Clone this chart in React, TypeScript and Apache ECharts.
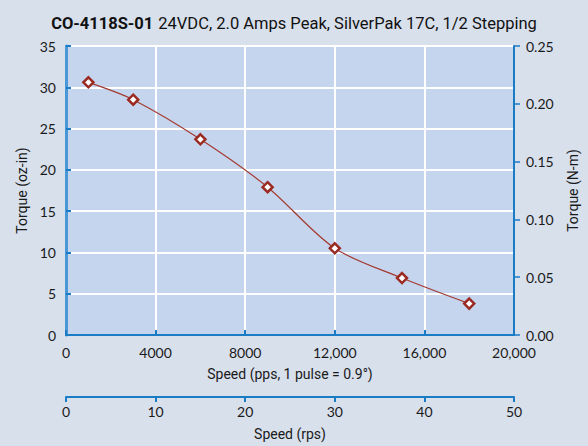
import React, { useEffect, useRef } from "react";
import * as echarts from "echarts";

const speedPps = [1000, 3000, 6000, 9000, 12000, 15000, 18000];
const torqueOzIn = [30.6, 28.5, 23.7, 17.9, 10.5, 6.9, 3.8];
const ppsTicks = { min: 0, max: 20000, interval: 4000 };
const rpsTicks = { min: 0, max: 50, interval: 10 };
const ozTicks = { min: 0, max: 35, interval: 5 };
const nmTicks = { min: 0, max: 0.25, interval: 0.05 };

const titleBold = "CO-4118S-01";
const titleRest = "24VDC, 2.0 Amps Peak, SilverPak 17C, 1/2 Stepping";

const AXIS_BLUE = "#1b7cc6";
const LABEL_FONT = "Lato";
const NAME_FONT = "Roboto";

export default function App() {
  const ref = useRef<HTMLDivElement>(null);
  useEffect(() => {
    if (!ref.current) return;
    const chart = echarts.init(ref.current, undefined, { renderer: "svg" });
    const labelStyle = { color: "#1a1a1a", fontSize: 14, fontFamily: LABEL_FONT };
    const nameStyle = { color: "#1a1a1a", fontSize: 14, fontFamily: NAME_FONT };
    chart.setOption({
      animation: false,
      backgroundColor: "#d8e0ec",
      title: {
        text: `{b|${titleBold}} {n|${titleRest}}`,
        left: "center",
        top: 9,
        textStyle: {
          fontWeight: "normal",
          rich: {
            b: { fontFamily: NAME_FONT, fontSize: 16.5, fontWeight: "bold", color: "#111" },
            n: { fontFamily: NAME_FONT, fontSize: 16.5, fontWeight: "normal", color: "#111" },
          },
        },
      },
      grid: {
        left: 66,
        right: 66,
        top: 46,
        bottom: 108,
        show: true,
        backgroundColor: "#c6d5ee",
        borderColor: AXIS_BLUE,
        borderWidth: 1.5,
      },
      xAxis: [
        {
          type: "value",
          position: "bottom",
          ...ppsTicks,
          axisLine: { show: true, onZero: false, lineStyle: { color: AXIS_BLUE, width: 2 } },
          axisTick: { show: true, inside: true, length: 5, lineStyle: { color: AXIS_BLUE, width: 2 } },
          splitLine: { show: true, lineStyle: { color: "#ffffff", width: 2 } },
          axisLabel: {
            ...labelStyle,
            margin: 10,
            formatter: (v: number) => (v >= 10000 ? v.toLocaleString("en-US") : String(v)),
          },
          name: "Speed (pps, 1 pulse = 0.9°)",
          nameLocation: "middle",
          nameGap: 32,
          nameTextStyle: nameStyle,
        },
        {
          type: "value",
          position: "bottom",
          offset: 62,
          ...rpsTicks,
          axisLine: { show: true, onZero: false, lineStyle: { color: AXIS_BLUE, width: 2 } },
          axisTick: { show: true, inside: false, length: 5, lineStyle: { color: AXIS_BLUE, width: 2 } },
          splitLine: { show: false },
          axisLabel: { ...labelStyle, margin: 7 },
          name: "Speed (rps)",
          nameLocation: "middle",
          nameGap: 30,
          nameTextStyle: nameStyle,
        },
      ],
      yAxis: [
        {
          type: "value",
          position: "left",
          ...ozTicks,
          axisLine: { show: true, onZero: false, lineStyle: { color: "#4a97d6", width: 3 } },
          axisTick: { show: true, inside: true, length: 5, lineStyle: { color: AXIS_BLUE, width: 2 } },
          splitLine: { show: true, lineStyle: { color: "#ffffff", width: 2 } },
          axisLabel: { ...labelStyle, margin: 10 },
          name: "Torque (oz-in)",
          nameLocation: "middle",
          nameGap: 31,
          nameTextStyle: nameStyle,
        },
        {
          type: "value",
          position: "right",
          ...nmTicks,
          axisLine: { show: true, onZero: false, lineStyle: { color: AXIS_BLUE, width: 2 } },
          axisTick: { show: true, inside: false, length: 6, lineStyle: { color: AXIS_BLUE, width: 1.5 } },
          splitLine: { show: false },
          axisLabel: { ...labelStyle, margin: 12, formatter: (v: number) => v.toFixed(2) },
          name: "Torque (N-m)",
          nameLocation: "middle",
          nameGap: 52,
          nameTextStyle: nameStyle,
        },
      ],
      series: [
        {
          type: "line",
          xAxisIndex: 0,
          yAxisIndex: 0,
          data: speedPps.map((s, i) => [s, torqueOzIn[i]]),
          smooth: 0.3,
          symbol: "diamond",
          symbolSize: 10,
          lineStyle: { color: "#a33a30", width: 1.2 },
          itemStyle: { color: "#ffffff", borderColor: "#9a2a22", borderWidth: 2.5 },
        },
      ],
    });
    return () => chart.dispose();
  }, []);
  return (
    <div
      ref={ref}
      style={{ position: "fixed", left: 0, top: 0, width: 588, height: 446 }}
    />
  );
}
